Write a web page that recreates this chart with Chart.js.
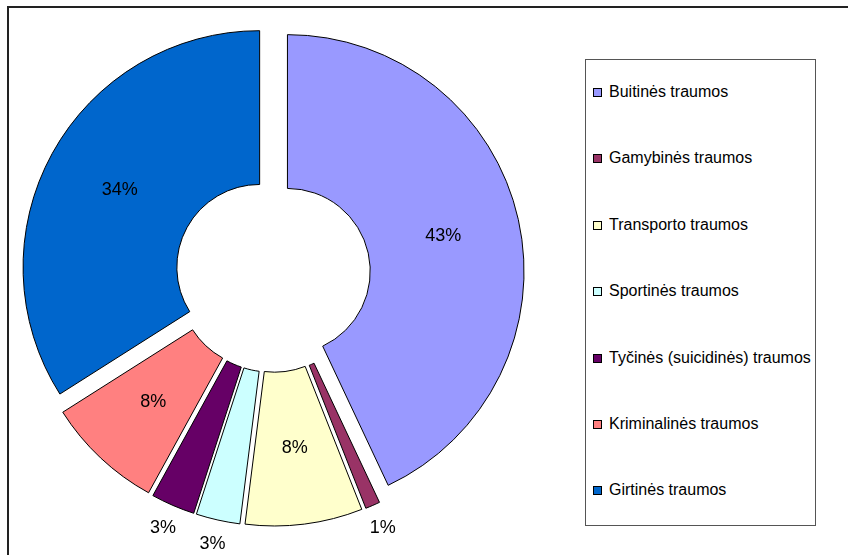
<!DOCTYPE html>
<html>
<head>
<meta charset="utf-8">
<script src="https://cdn.jsdelivr.net/npm/chart.js@4.4.1/dist/chart.umd.min.js"></script>
<style>
  body { margin: 0; background: #fff; font-family: "Liberation Sans", Arial, sans-serif; }
  #frame { position: absolute; left: 7px; top: 6px; width: 900px; height: 600px; border: 2px solid #222; }
  #chart { position: absolute; left: 0; top: 0; }
  #legend { position: absolute; left: 585px; top: 59px; width: 231px; height: 467px; border: 1px solid #555;
            padding-top: 23px; box-sizing: border-box; background: #fff; }
  .item { height: 18px; line-height: 18px; margin-bottom: 48.4px; font-size: 16px; color: #000; white-space: nowrap; }
  .swatch { display: inline-block; width: 7px; height: 7px; border: 1px solid #000; margin: 0 7px 0 7px; vertical-align: 0px; }
</style>
</head>
<body>
<div id="frame"></div>
<canvas id="chart" width="848" height="555"></canvas>
<div id="legend"></div>
<script>
// Data (percent of all injuries)
const categories = [
    'Buitinės traumos',
    'Gamybinės traumos',
    'Transporto traumos',
    'Sportinės traumos',
    'Tyčinės (suicidinės) traumos',
    'Kriminalinės traumos',
    'Girtinės traumos'
];
const shares = [43, 1, 8, 3, 3, 8, 34];
const sliceColors = ['#9999FF', '#993366', '#FFFFCC', '#CCFFFF', '#660066', '#FF8080', '#0066CC'];

// Pull every slice away from the centre (like Excel's exploded doughnut)
const explodePlugin = {
    id: 'explode',
    beforeDatasetsDraw(chart, args, opts) {
        const area = chart.chartArea;
        const cx = (area.left + area.right) / 2;
        const cy = (area.top + area.bottom) / 2;
        chart.getDatasetMeta(0).data.forEach(arc => {
            const mid = (arc.startAngle + arc.endAngle) / 2;
            arc.x = cx + Math.cos(mid) * opts.distance;
            arc.y = cy + Math.sin(mid) * opts.distance;
        });
    }
};

// Percentage labels: inside the ring for big slices, outside for small ones
const sliceLabelPlugin = {
    id: 'sliceLabels',
    afterDatasetsDraw(chart, args, opts) {
        const ctx = chart.ctx;
        const total = shares.reduce((a, b) => a + b, 0);
        ctx.save();
        ctx.font = opts.font;
        ctx.fillStyle = '#000';
        ctx.textAlign = 'center';
        ctx.textBaseline = 'middle';
        chart.getDatasetMeta(0).data.forEach((arc, i) => {
            const pct = Math.round(shares[i] / total * 100);
            const mid = (arc.startAngle + arc.endAngle) / 2;
            const r = pct >= 5 ? (arc.innerRadius + arc.outerRadius) / 2 : arc.outerRadius + 25;
            ctx.fillText(pct + '%', arc.x + Math.cos(mid) * r, arc.y + Math.sin(mid) * r);
        });
        ctx.restore();
    }
};

const chart = new Chart(document.getElementById('chart'), {
    type: 'doughnut',
    data: {
        labels: categories,
        datasets: [{
            data: shares,
            backgroundColor: sliceColors,
            borderColor: '#000',
            borderWidth: 1
        }]
    },
    options: {
        responsive: false,
        animation: false,
        events: [],
        radius: 236.6,
        cutout: '35%',
        layout: { padding: { left: 0, right: 302.4, top: 0, bottom: 6 } },
        plugins: {
            legend: { display: false },
            tooltip: { enabled: false },
            explode: { distance: 15 },
            sliceLabels: { font: '18px "Liberation Sans", Arial, sans-serif' }
        }
    },
    plugins: [explodePlugin, sliceLabelPlugin]
});

// HTML legend built from the same arrays
const legend = document.getElementById('legend');
categories.forEach((name, i) => {
    const item = document.createElement('div');
    item.className = 'item';
    item.innerHTML = `<span class="swatch" style="background:${sliceColors[i]}"></span>${name}`;
    legend.appendChild(item);
});
</script>
</body>
</html>
